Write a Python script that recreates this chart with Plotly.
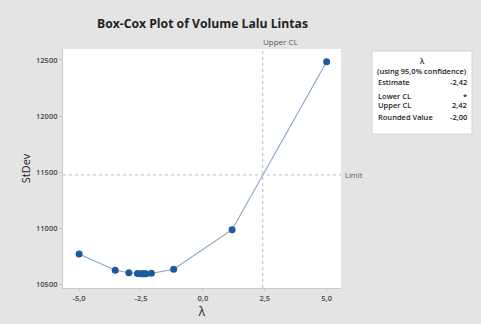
import plotly.graph_objects as go

lambdas = [-5.0, -3.54, -2.99, -2.64, -2.51, -2.43, -2.38, -2.30, -2.08, -1.18, 1.18, 5.0]
stdev = [10770, 10625, 10603, 10597, 10595, 10594, 10594, 10595, 10598, 10634, 10987, 12485]
upper_cl = 2.42
limit = 11475
x_ticks = [-5.0, -2.5, 0.0, 2.5, 5.0]
x_tick_text = ["-5,0", "-2,5", "0,0", "2,5", "5,0"]
y_ticks = [10500, 11000, 11500, 12000, 12500]
y_tick_text = ["10500", "11000", "11500", "12000", "12500"]

FONT = "Open Sans"
fig = go.Figure()
fig.add_trace(go.Scatter(
    x=lambdas, y=stdev, mode="lines+markers",
    line=dict(color="#8aa6c8", width=1.2),
    marker=dict(color="#1d5a9a", size=7),
    showlegend=False, hoverinfo="skip"))

fig.add_shape(type="line", x0=upper_cl, x1=upper_cl, y0=0, y1=1, yref="paper",
              line=dict(color="#b8b8b8", width=1, dash="dot"))
fig.add_shape(type="line", x0=0, x1=1, xref="paper", y0=limit, y1=limit,
              line=dict(color="#b8b8b8", width=1, dash="dot"))

fig.add_annotation(x=upper_cl, y=1, yref="paper", text="Upper CL", showarrow=False,
                   xanchor="left", xshift=-2, yanchor="bottom", yshift=0,
                   font=dict(family=FONT, size=8, color="#555"))
fig.add_annotation(x=1, xref="paper", y=limit, text="Limit", showarrow=False,
                   xanchor="left", yanchor="middle", xshift=2,
                   font=dict(family=FONT, size=7.5, color="#555"))

# legend box (paper coords: plot area 63..341 px, 49..288 px)
PW, PH = 278.0, 239.0
def px(xp):
    return (xp - 63) / PW
def py(yp):
    return (288 - yp) / PH

BOXF = dict(family=FONT, size=7.5, color="#222", weight=600)
fig.add_shape(type="rect", xref="paper", yref="paper",
              x0=px(372), x1=px(472), y0=py(134), y1=py(51),
              fillcolor="white", line=dict(color="#d4d4d4", width=1), layer="below")
cx = px(422)
fig.add_annotation(xref="paper", yref="paper", x=cx, y=py(61), text="λ", showarrow=False,
                   xanchor="center", yanchor="middle", font=BOXF)
fig.add_annotation(xref="paper", yref="paper", x=cx, y=py(71), text="(using 95,0% confidence)",
                   xanchor="center", yanchor="middle", showarrow=False, font=BOXF)
labels = [("Estimate", "-2,42", 82), ("Lower CL", "*", 96), ("Upper CL", "2,42", 105),
          ("Rounded Value", "-2,00", 117)]
for lab, val, yy in labels:
    fig.add_annotation(xref="paper", yref="paper", x=px(376), y=py(yy), text=lab,
                       xanchor="left", yanchor="middle", showarrow=False, font=BOXF)
    fig.add_annotation(xref="paper", yref="paper", x=px(469), y=py(yy), text=val,
                       xanchor="right", yanchor="middle", showarrow=False, font=BOXF)

TICKF = dict(family=FONT, size=7.5, color="#444", weight=600)
fig.update_layout(
    width=481, height=324,
    margin=dict(l=63, r=140, t=49, b=36),
    paper_bgcolor="#e4e4e4", plot_bgcolor="white",
    font=dict(family=FONT, size=8, color="#333"),
    title=dict(text="<b>Box-Cox Plot of Volume Lalu Lintas</b>", x=0.421, xanchor="center",
               y=0.928, yanchor="middle", font=dict(family=FONT, size=12.2, color="#222")),
    xaxis=dict(range=[-5.65, 5.58], tickvals=x_ticks, ticktext=x_tick_text, automargin=False,
               showgrid=False, zeroline=False, showline=True, linecolor="#c8c8c8",
               ticks="outside", ticklen=3, tickcolor="#c8c8c8", tickfont=TICKF,
               title=dict(text="λ", font=dict(family=FONT, size=12, color="#222"), standoff=0)),
    yaxis=dict(range=[10467, 12598], tickvals=y_ticks, ticktext=y_tick_text,
               automargin=False,
               showgrid=False, zeroline=False, showline=True, linecolor="#c8c8c8",
               ticks="outside", ticklen=3, tickcolor="#c8c8c8", tickfont=TICKF,
               title=dict(text="StDev", font=dict(family=FONT, size=11, color="#222"), standoff=3)),
)

fig.write_html("out.html", config={"displayModeBar": False},
               post_script="document.body.style.margin='0';document.body.style.overflow='hidden';")
